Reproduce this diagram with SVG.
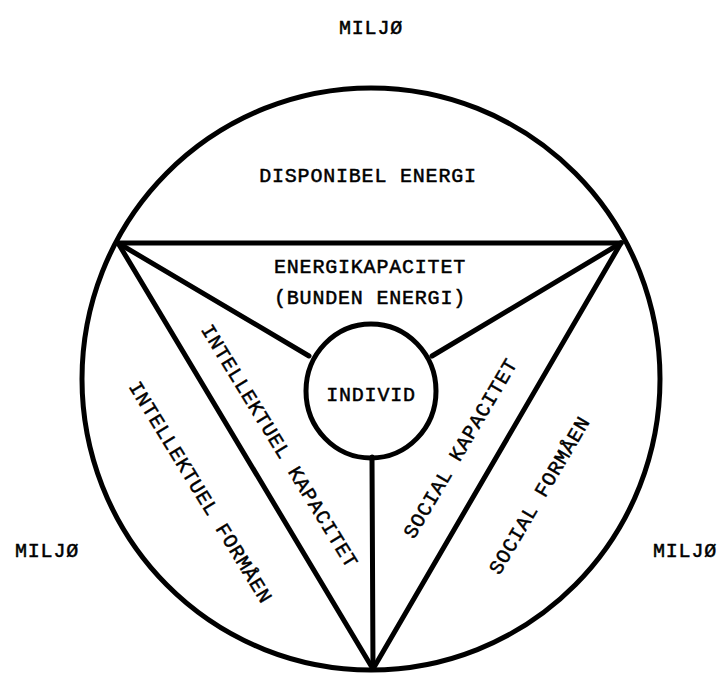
<svg xmlns="http://www.w3.org/2000/svg" width="719" height="675" viewBox="0 0 719 675">
<style>
.ln{stroke:#000;stroke-width:5;fill:none;stroke-linecap:round;stroke-linejoin:round}
.t{font-family:"Liberation Mono","DejaVu Sans Mono",monospace;font-size:20px;letter-spacing:0.8px;fill:#000;stroke:#000;stroke-width:0.5;text-anchor:middle}
</style>
<rect width="719" height="675" fill="#fff"/>
<g id="outer">
<ellipse class="ln" cx="371" cy="379" rx="289" ry="291"/>
</g>
<g id="connectors">
<line class="ln" x1="118" y1="243" x2="621" y2="243"/>
<line class="ln" x1="118" y1="243" x2="373" y2="669"/>
<line class="ln" x1="621" y1="243" x2="373" y2="669"/>
<line class="ln" x1="118" y1="243" x2="309" y2="356"/>
<line class="ln" x1="621" y1="243" x2="432" y2="356"/>
<line class="ln" x1="372" y1="457" x2="373" y2="669"/>
</g>
<g id="individ">
<ellipse class="ln" cx="371" cy="391" rx="65" ry="67" fill="#fff"/>
<text class="t" x="371" y="401">INDIVID</text>
</g>
<g id="miljo-top"><text class="t" x="371" y="34">MILJØ</text></g>
<g id="miljo-left"><text class="t" x="47" y="557">MILJØ</text></g>
<g id="miljo-right"><text class="t" x="685" y="557">MILJØ</text></g>
<g id="disponibel"><text class="t" x="368" y="182">DISPONIBEL ENERGI</text></g>
<g id="energikapacitet">
<text class="t" x="370" y="273">ENERGIKAPACITET</text>
<text class="t" x="370" y="304">(BUNDEN ENERGI)</text>
</g>
<g id="intellektuel-kapacitet"><text class="t" transform="translate(280,446) rotate(58.5)" y="7">INTELLEKTUEL KAPACITET</text></g>
<g id="intellektuel-formaen"><text class="t" transform="translate(201,492) rotate(58.5)" y="7">INTELLEKTUEL FORMÅEN</text></g>
<g id="social-kapacitet"><text class="t" transform="translate(460,448) rotate(-59.5)" y="7">SOCIAL KAPACITET</text></g>
<g id="social-formaen"><text class="t" transform="translate(539,495) rotate(-59.5)" y="7">SOCIAL FORMÅEN</text></g>
</svg>
